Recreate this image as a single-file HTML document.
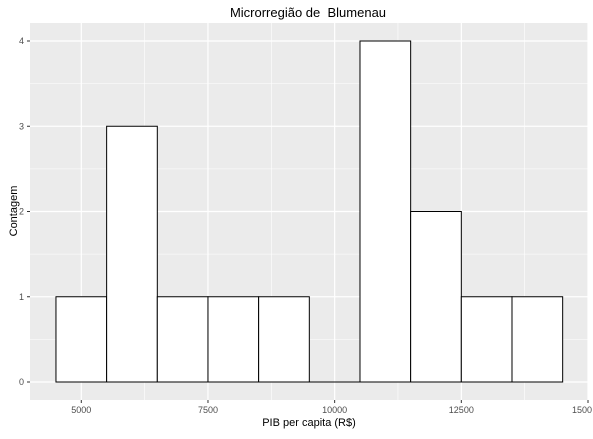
<!DOCTYPE html>
<html><head><meta charset="utf-8"><style>
body{margin:0;background:#fff;font-family:"Liberation Sans",Arial,sans-serif}
svg text{font-family:"Liberation Sans",Arial,sans-serif}
</style></head><body>
<svg id="chart" width="593" height="434" xmlns="http://www.w3.org/2000/svg">
<rect x="0" y="0" width="593" height="434" fill="#fff"/>
<rect x="30" y="23" width="558" height="377" fill="#EBEBEB"/>
<g id="grid"></g><g id="bars"></g><g id="axes"></g>
<text x="308" y="17" text-anchor="middle" font-size="13" fill="#000" style="white-space:pre">Microrregião de  Blumenau</text>
<text x="309" y="426" text-anchor="middle" font-size="11" fill="#000">PIB per capita (R$)</text>
<text transform="translate(17,211) rotate(-90)" text-anchor="middle" font-size="11" fill="#000">Contagem</text>
</svg>
<script>
const binStarts=[4500,5500,6500,7500,8500,9500,10500,11500,12500,13500];
const counts=[1,3,1,1,1,0,4,2,1,1];
const binWidth=1000;
const xTicks=[5000,7500,10000,12500,15000];
const xTickLabels=["5000","7500","10000","12500","1500"];
const yTicks=[0,1,2,3,4];
const NS="http://www.w3.org/2000/svg";
const X=v=>81.3+(v-5000)*(506.7/10000);
const Y=v=>382-v*85.25;
function mk(t,a,p){const e=document.createElementNS(NS,t);for(const k in a)e.setAttribute(k,a[k]);p.appendChild(e);return e;}
const g=document.getElementById('grid'),b=document.getElementById('bars'),ax=document.getElementById('axes');
for(let i=0;i<xTicks.length-1;i++){const m=mk('line',{x1:X((xTicks[i]+xTicks[i+1])/2),x2:X((xTicks[i]+xTicks[i+1])/2),y1:23,y2:400,stroke:'#fff','stroke-width':0.6},g);

}
for(let i=0;i<yTicks.length-1;i++){const m=mk('line',{x1:30,x2:588,y1:Y(yTicks[i]+0.5),y2:Y(yTicks[i]+0.5),stroke:'#fff','stroke-width':0.6},g);

}
xTicks.forEach((t,i)=>{const l=mk('line',{x1:X(t),x2:X(t),y1:23,y2:400,stroke:'#fff','stroke-width':1.2},g);


mk('line',{x1:X(t),x2:X(t),y1:400,y2:403,stroke:'#333'},ax);
const last=i===xTicks.length-1;
const tx=mk('text',{x:last?592:X(t),y:413,'text-anchor':last?'end':'middle','font-size':9,fill:'#4d4d4d'},ax);tx.textContent=xTickLabels[i];

});
yTicks.forEach(t=>{const l=mk('line',{x1:30,x2:588,y1:Y(t),y2:Y(t),stroke:'#fff','stroke-width':1.2},g);


mk('line',{x1:27,x2:30,y1:Y(t),y2:Y(t),stroke:'#333'},ax);
const tx=mk('text',{x:24,y:Y(t)+3,'text-anchor':'end','font-size':9,fill:'#4d4d4d'},ax);tx.textContent=t;

});
binStarts.forEach((s,i)=>{if(counts[i]<=0){const z=mk('line',{x1:X(s),x2:X(s+binWidth),y1:Y(0),y2:Y(0),stroke:'#000','stroke-width':1},b);

return;}
const r=mk('rect',{x:X(s),y:Y(counts[i]),width:X(s+binWidth)-X(s),height:Y(0)-Y(counts[i]),fill:'#fff',stroke:'#000','stroke-width':1},b);

});
</script>
</body></html>
